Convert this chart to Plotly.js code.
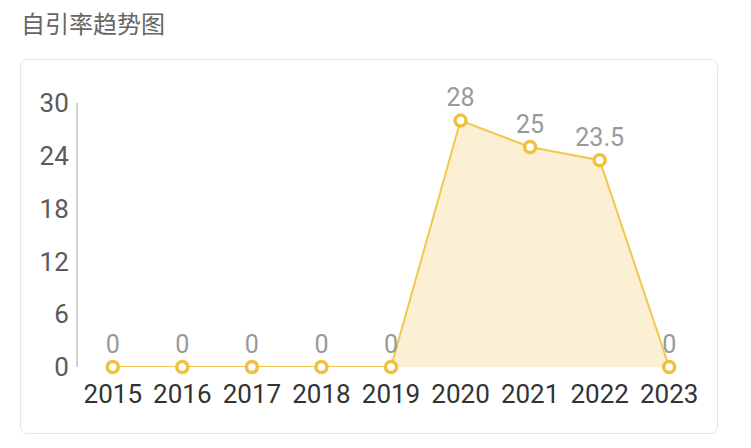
<!DOCTYPE html>
<html><head><meta charset="utf-8">
<script src="https://cdn.plot.ly/plotly-3.0.1.min.js"></script>
<style>
html,body{margin:0;padding:0;background:#fff;width:751px;height:448px;overflow:hidden;}
#title{position:absolute;left:21px;top:5px;font-family:"Noto Sans CJK SC",sans-serif;font-size:24px;color:#666;}
#box{position:absolute;left:20px;top:59px;width:696px;height:373px;border:1.5px solid #e6e6e6;border-radius:7px;}
#chart{position:absolute;left:0;top:0;width:751px;height:448px;}
</style></head>
<body>
<div id="title">自引率趋势图</div>
<div id="box"></div>
<div id="chart"></div>
<script>
const years = ['2015','2016','2017','2018','2019','2020','2021','2022','2023'];
const rates = [0,0,0,0,0,28,25,23.5,0];
const yTicks = [0,6,12,18,24,30];

Plotly.newPlot('chart', [{
  x: years, y: rates, type: 'scatter', mode: 'lines+markers+text',
  text: rates.map(String), textposition: 'top center',
  textfont: {family: 'Roboto, sans-serif', size: 25, color: '#999'},
  line: {color: '#f0c850', width: 2},
  marker: {size: 11, color: '#fff', line: {color: '#efc13f', width: 3.5}},
  fill: 'tozeroy', fillcolor: 'rgba(249,232,187,0.65)',
  cliponaxis: false, hoverinfo: 'none'
}], {
  width: 751, height: 448,
  margin: {l: 78, r: 47, t: 103, b: 81},
  paper_bgcolor: 'rgba(0,0,0,0)', plot_bgcolor: 'rgba(0,0,0,0)',
  showlegend: false,
  xaxis: {type: 'category', range: [-0.5, 8.5], showgrid: false, zeroline: false,
    showline: false, ticks: '', tickfont: {family: 'Roboto, sans-serif', size: 26, color: '#333'}, ticklabelstandoff: 9},
  yaxis: {range: [0, 30], tickvals: yTicks, ticktext: yTicks.map(String), showgrid: false, zeroline: false,
    showline: true, linecolor: '#d0d0d0', linewidth: 2, ticks: '',
    tickfont: {family: 'Roboto, sans-serif', size: 26, color: '#5a5a5a'}, ticklabelstandoff: 2}
}, {displayModeBar: false, staticPlot: true});
</script>
</body></html>
